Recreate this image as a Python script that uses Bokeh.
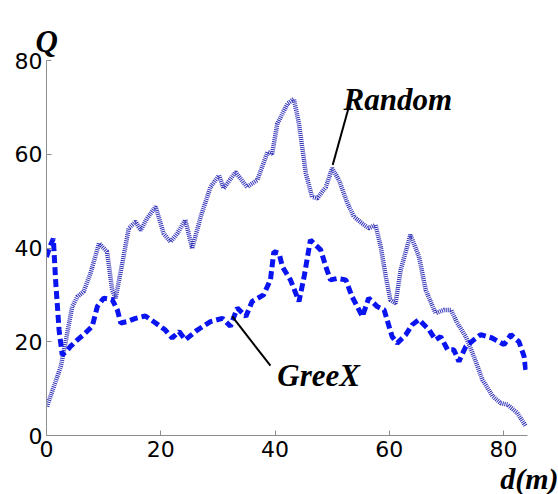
from bokeh.plotting import figure
from bokeh.models import Range1d, FixedTicker, Label, Title
from bokeh.embed import file_html
from bokeh.resources import INLINE

# ---- data ----
greex_d = [0, 0.5, 1.2, 1.6, 2.2, 2.75, 3.5, 4.2, 5.5, 6.5, 8, 8.9, 10, 11.5, 12.4, 13, 14.1,
           15.6, 17.3, 19.1, 20.8, 22, 23.2, 24.3, 26.4, 28.7, 30.8, 32.2, 33.4, 34.9, 36, 38,
           39.2, 39.8, 40.7, 41.3, 42.7, 44.2, 45.1, 46.2, 48, 48.9, 49.7, 50.9, 52.4, 53.5,
           55.3, 56.4, 57.9, 59.1, 60.5, 61.4, 62.9, 64, 65.2, 67, 68.1, 69, 70.2, 71.3, 72.2,
           73.4, 74.8, 76, 78, 80.1, 81.3, 82.7, 83.6, 83.9]
greex_q = [38.1, 40, 42, 33, 22.5, 17.2, 18, 19, 20.5, 21.5, 23.3, 27.5, 29.3, 29, 26.8, 24, 24.3,
           25, 25.5, 24, 22.5, 20.8, 22.2, 20.4, 22.5, 24.3, 25, 23.3, 27.2, 25.4, 28.6, 30,
           33.2, 39.2, 38.9, 36, 33.2, 28.6, 33.9, 41.7, 39.6, 36, 33.2, 33.5, 33.2, 29.6,
           25.4, 29.3, 27.5, 26.8, 21.1, 19.7, 21.5, 23.6, 24.7, 22.5, 20.4, 21.1, 18.3, 18.3, 15.8,
           19, 20.4, 21.5, 20.8, 19.4, 21.5, 20, 16.9, 14]

random_d = [0.1, 1.3, 2.5, 3.3, 4.5, 5.4, 6.5, 7.7, 9.2, 10.6, 11.5, 12.1, 13, 14.4, 15.6, 16.5,
            17.6, 19.1, 20.5, 21.7, 22.9, 24.3, 25.5, 27, 28.7, 30.2, 31, 33.1, 35.1, 36.9, 38.7,
            39.5, 40.4, 42.2, 43.3, 44.2, 45.4, 46.5, 47.4, 48.9, 50, 51.2, 52.7, 53.8, 55.3,
            56.4, 57.6, 58.5, 59.4, 60.2, 61.1, 62, 63.7, 65.2, 66.4, 68.1, 69.6, 70.8, 71.9,
            73.4, 74.8, 76.3, 78.1, 79.5, 80.7, 82.4, 83.9]
random_q = [6.2, 10.5, 14.7, 19.7, 27.5, 29.6, 30.7, 34.6, 41, 39.2, 31, 29.3, 35, 44.2, 45.6, 43.8,
            46.3, 48.8, 43.1, 41.3, 43.1, 46, 39.9, 46.7, 53, 55.5, 52.7, 56.2, 53, 54.5, 60.5,
            60.1, 66.5, 70.8, 71.8, 66.5, 55.9, 50.9, 50.6, 53, 57, 54.5, 49.5, 46.7, 45.2,
            44.2, 44.9, 40.3, 33.9, 28.9, 28.2, 35.3, 42.8, 38.2, 31, 26.1, 26.8, 26.8, 24,
            21.1, 16.9, 11.9, 8.4, 6.9, 6.6, 4.8, 2]

x_ticks = [0, 20, 40, 60, 80]
y_ticks = [0, 20, 40, 60, 80]

random_pointer_d = [53.2, 50.1]
random_pointer_q = [71.3, 57.7]
greex_pointer_d = [32.5, 39.2]
greex_pointer_q = [25.4, 14.9]

p = figure(width=558, height=494, output_backend="svg", toolbar_location=None,
           x_range=Range1d(0, 84.2), y_range=Range1d(0, 80),
           min_border_left=46, min_border_right=31, min_border_top=60, min_border_bottom=58)
p.outline_line_color = None
p.grid.visible = False
p.background_fill_color = "white"
p.border_fill_color = "white"

for ax in (p.xaxis[0], p.yaxis[0]):
    ax.axis_line_color = "#8c8c8c"
    ax.major_tick_line_color = "#8c8c8c"
    ax.major_tick_in = 5
    ax.major_tick_out = 0
    ax.minor_tick_line_color = None
    ax.major_label_text_font = "DejaVu Sans"
    ax.major_label_text_font_size = "22px"
    ax.major_label_text_color = "black"
p.xaxis.ticker = FixedTicker(ticks=x_ticks)
p.yaxis.ticker = FixedTicker(ticks=y_ticks)
p.xaxis.major_label_standoff = 5
p.yaxis.major_label_standoff = 4

p.line(random_d, random_q, line_color="#3030b8", line_width=4.5, line_dash="1 1")
p.line(greex_d, greex_q, line_color="#0a14f0", line_width=5, line_dash="8 4")

p.line(random_pointer_d, random_pointer_q, line_color="black", line_width=2)
p.line(greex_pointer_d, greex_pointer_q, line_color="black", line_width=2)

def lab(x, y, t):
    p.add_layout(Label(x=x, y=y, text=t, text_font="Liberation Serif", text_font_style="bold italic",
                       text_font_size="31px", text_color="black", text_baseline="alphabetic"))

lab(52.0, 71.7, "Random")
lab(40.4, 12.8, "GreeX")

q_title = Title(text="Q", align="left", offset=-11, standoff=0, vertical_align="top",
                text_font="Liberation Serif",
                text_font_style="bold italic", text_font_size="31px", text_color="black")
p.add_layout(q_title, "above")
# non-empty blank spacer between the "Q" title and the frame
spacer = Title(text=" ", standoff=0, text_font_size="17px", text_color="white")
p.add_layout(spacer, "above")
d_title = Title(text="d(m)", align="right", offset=-31, standoff=0, text_font="Liberation Serif",
                text_font_style="bold italic", text_font_size="30px", text_color="black")
p.add_layout(d_title, "below")

open("out.html", "w").write(file_html(p, INLINE))
